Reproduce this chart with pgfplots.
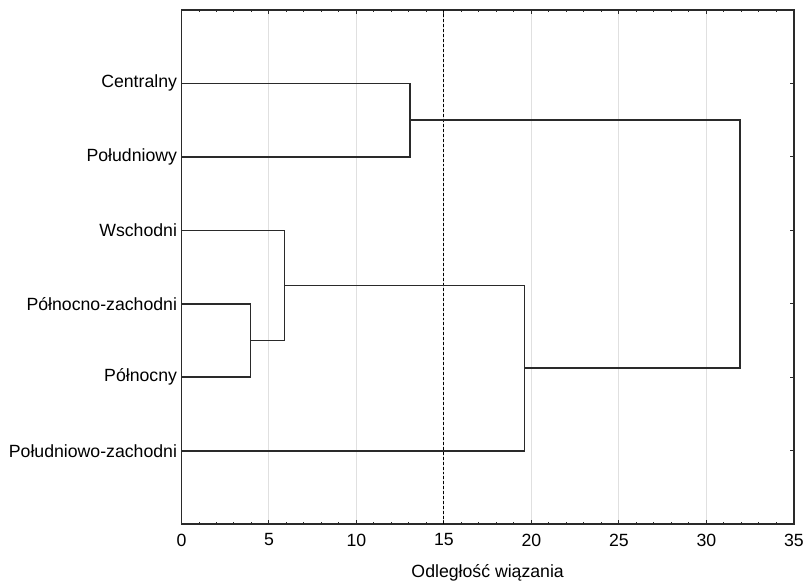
\documentclass[border=0pt]{standalone}
\usepackage{fontspec}
\setmainfont{Liberation Sans}
\usepackage{pgfplots}
\pgfplotsset{compat=1.18}
\definecolor{ln}{HTML}{2A2A2A}
\definecolor{gr}{HTML}{E0E0E0}
\begin{document}
\begin{tikzpicture}
\begin{axis}[
  scale only axis,
  width=614bp, height=515.6bp,
  xmin=0, xmax=35, ymin=0, ymax=7,
  xtick={0,5,...,35},
  minor x tick num=4,
  ytick={1,2,3,4,5,6},
  yticklabels={Południowo-zachodni,Północny,Północno-zachodni,Wschodni,Południowy,Centralny},
  tick align=inside,
  major tick length=4bp,
  minor tick length=2bp,
  tick style={ln, line width=1bp},
  axis line style={ln, line width=1.4bp},
  xmajorgrids,
  grid style={gr, line width=1bp},
  font=\fontsize{17.8}{21}\selectfont,
  /pgf/number format/assume math mode=true,
  xticklabel style={yshift=-6bp},
  yticklabel style={xshift=-1bp},
  xlabel={Odległość wiązania},
  xlabel style={yshift=-11bp},
  clip=false,
]
\addplot[black, densely dashed, line width=0.9bp] coordinates {(15,0) (15,7)};
% Centralny & Poludniowy
\addplot[ln, line width=1.6bp] coordinates {(0,6) (13.07,6) (13.07,5) (0,5)};
% Polnocno-zachodni & Polnocny
\addplot[ln, line width=1.6bp] coordinates {(0,3) (3.95,3) (3.95,2) (0,2)};
% Wschodni + cluster
\addplot[ln, line width=1.6bp] coordinates {(0,4) (5.89,4) (5.89,2.5) (3.95,2.5)};
% Poludniowo-zachodni + cluster
\addplot[ln, line width=1.6bp] coordinates {(5.89,3.25) (19.61,3.25) (19.61,1) (0,1)};
% top merge
\addplot[ln, line width=1.6bp] coordinates {(13.07,5.5) (31.93,5.5) (31.93,2.125) (19.61,2.125)};
\coordinate (tl) at (rel axis cs:0,1);
\coordinate (br) at (rel axis cs:1,0);
\end{axis}
\path ([xshift=-182bp,yshift=10bp]tl) rectangle ([xshift=11bp,yshift=-56.4bp]br);
\end{tikzpicture}
\end{document}
